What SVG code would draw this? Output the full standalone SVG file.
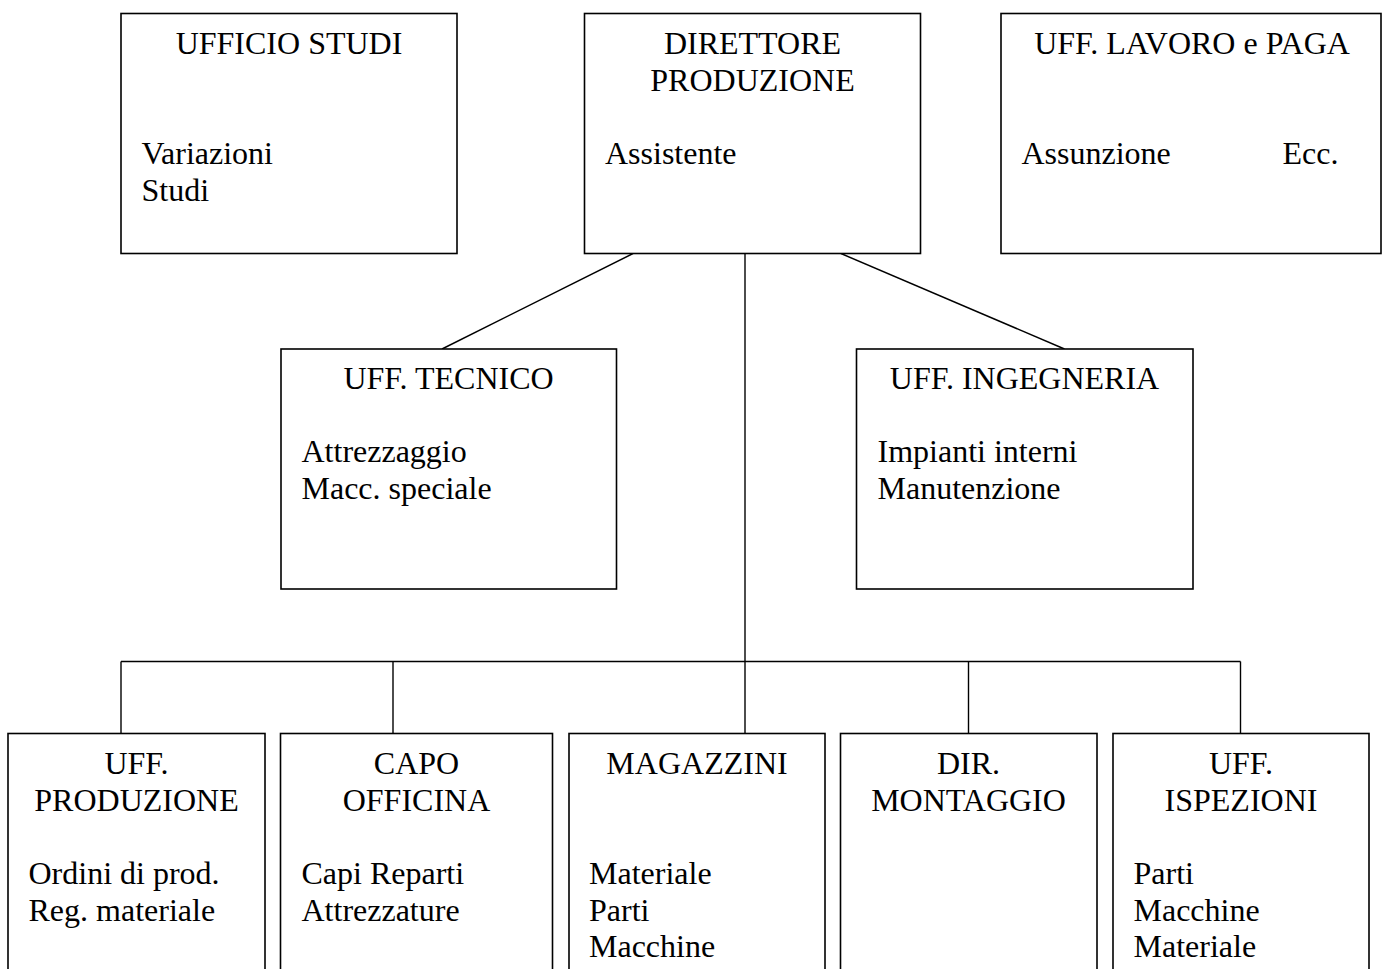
<svg xmlns="http://www.w3.org/2000/svg" width="1389" height="969" viewBox="0 0 1389 969">
<style>
.box{fill:#fff;stroke:#000;stroke-width:1.6}
.ln{stroke:#000;stroke-width:1.4;fill:none}
text{font-family:"Liberation Serif","Times New Roman",serif;font-size:32px;fill:#000}
.c{text-anchor:middle}
</style>
<rect width="1389" height="969" fill="#fff"/>
<g id="connectors">
<line class="ln" x1="633" y1="253.5" x2="442" y2="349"/>
<line class="ln" x1="841" y1="253.5" x2="1064.5" y2="349"/>
<line class="ln" x1="745" y1="253.5" x2="745" y2="733.5"/>
<line class="ln" x1="121" y1="661.5" x2="1240.5" y2="661.5"/>
<line class="ln" x1="121" y1="661.5" x2="121" y2="733.5"/>
<line class="ln" x1="393" y1="661.5" x2="393" y2="733.5"/>
<line class="ln" x1="968.5" y1="661.5" x2="968.5" y2="733.5"/>
<line class="ln" x1="1240.5" y1="661.5" x2="1240.5" y2="733.5"/>
</g>
<g id="ufficio-studi">
<rect class="box" x="121" y="13.5" width="336" height="240"/>
<text class="c" x="289" y="54">UFFICIO STUDI</text>
<text x="141.5" y="164">Variazioni</text>
<text x="141.5" y="200.5">Studi</text>
</g>
<g id="direttore-produzione">
<rect class="box" x="584.5" y="13.5" width="336" height="240"/>
<text class="c" x="752.5" y="54">DIRETTORE</text>
<text class="c" x="752.5" y="91">PRODUZIONE</text>
<text x="605" y="164">Assistente</text>
</g>
<g id="uff-lavoro-paga">
<rect class="box" x="1001" y="13.5" width="380" height="240"/>
<text class="c" x="1192" y="54">UFF. LAVORO e PAGA</text>
<text x="1021.5" y="164">Assunzione</text>
<text x="1282.5" y="164">Ecc.</text>
</g>
<g id="uff-tecnico">
<rect class="box" x="281" y="349" width="335.5" height="240"/>
<text class="c" x="448.5" y="389">UFF. TECNICO</text>
<text x="301.5" y="462">Attrezzaggio</text>
<text x="301.5" y="499">Macc. speciale</text>
</g>
<g id="uff-ingegneria">
<rect class="box" x="856.5" y="349" width="336.5" height="240"/>
<text class="c" x="1024.5" y="389">UFF. INGEGNERIA</text>
<text x="877.5" y="462">Impianti interni</text>
<text x="877.5" y="499">Manutenzione</text>
</g>
<g id="uff-produzione">
<rect class="box" x="8" y="733.5" width="257" height="260"/>
<text class="c" x="136.5" y="773.5">UFF.</text>
<text class="c" x="136.5" y="810.5">PRODUZIONE</text>
<text x="28.5" y="884">Ordini di prod.</text>
<text x="28.5" y="920.5">Reg. materiale</text>
</g>
<g id="capo-officina">
<rect class="box" x="280.5" y="733.5" width="272" height="260"/>
<text class="c" x="416.5" y="773.5">CAPO</text>
<text class="c" x="416.5" y="810.5">OFFICINA</text>
<text x="301.5" y="884">Capi Reparti</text>
<text x="301.5" y="920.5">Attrezzature</text>
</g>
<g id="magazzini">
<rect class="box" x="569" y="733.5" width="256" height="260"/>
<text class="c" x="697" y="773.5">MAGAZZINI</text>
<text x="589" y="884">Materiale</text>
<text x="589" y="920.5">Parti</text>
<text x="589" y="957">Macchine</text>
</g>
<g id="dir-montaggio">
<rect class="box" x="840.5" y="733.5" width="256.5" height="260"/>
<text class="c" x="968.5" y="773.5">DIR.</text>
<text class="c" x="968.5" y="810.5">MONTAGGIO</text>
</g>
<g id="uff-ispezioni">
<rect class="box" x="1113" y="733.5" width="256" height="260"/>
<text class="c" x="1241" y="773.5">UFF.</text>
<text class="c" x="1241" y="810.5">ISPEZIONI</text>
<text x="1133.5" y="884">Parti</text>
<text x="1133.5" y="920.5">Macchine</text>
<text x="1133.5" y="957">Materiale</text>
</g>
</svg>
